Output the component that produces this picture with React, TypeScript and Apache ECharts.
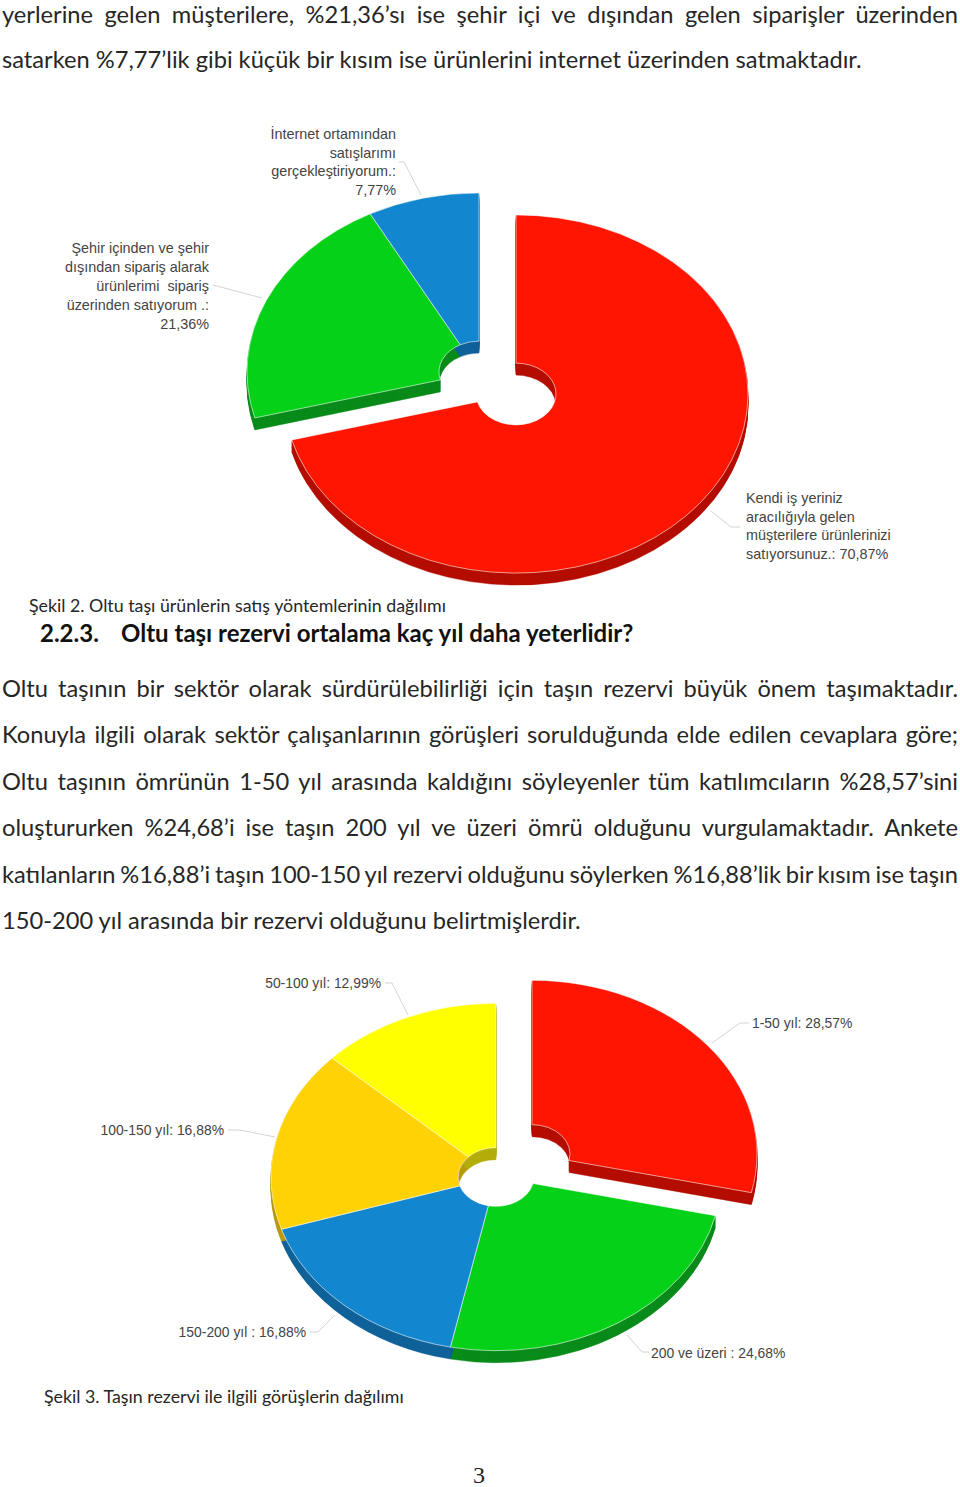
import React, { useEffect, useRef } from "react";
import * as echarts from "echarts";

const pie1Names = ["Kendi iş yeriniz aracılığıyla gelen müşterilere ürünlerinizi satıyorsunuz.", "Şehir içinden ve şehir dışından sipariş alarak ürünlerimi sipariş üzerinden satıyorum .", "İnternet ortamından satışlarımı gerçekleştiriyorum."];
const pie1Values = [70.87, 21.36, 7.77];
const pie1Colors = ["#ff1500", "#05d118", "#1287cf"];
const pie1Sides = ["#b50d00", "#0a8c1b", "#0f6299"];
const pie1Sliced = [true, false, false];

const pie2Names = ["1-50 yıl", "200 ve üzeri", "150-200 yıl", "100-150 yıl", "50-100 yıl"];
const pie2Values = [28.57, 24.68, 16.88, 16.88, 12.99];
const pie2Colors = ["#ff1500", "#05d118", "#1287cf", "#ffd205", "#ffff00"];
const pie2Sides = ["#b50d00", "#0a8c1b", "#0f6299", "#b89a10", "#b5ad0a"];
const pie2Sliced = [true, false, false, false, false];

const BODY = '"Lato", sans-serif';
const LABEL = '"Liberation Sans", Arial, sans-serif';
const bodyLines: [string, number, boolean][] = [
  ["yerlerine gelen müşterilere, %21,36’sı ise şehir içi ve dışından gelen siparişler üzerinden", 13.5, true],
  ["satarken %7,77’lik gibi küçük bir kısım ise ürünlerini internet üzerinden satmaktadır.", 59, false],
  ["Oltu taşının bir sektör olarak sürdürülebilirliği için taşın rezervi büyük önem taşımaktadır.", 688, true],
  ["Konuyla ilgili olarak sektör çalışanlarının görüşleri sorulduğunda elde edilen cevaplara göre;", 734, true],
  ["Oltu taşının ömrünün 1-50 yıl arasında kaldığını söyleyenler tüm katılımcıların %28,57’sini", 781, true],
  ["oluştururken %24,68’i ise taşın 200 yıl ve üzeri ömrü olduğunu vurgulamaktadır. Ankete", 827, true],
  ["katılanların %16,88’i taşın 100-150 yıl rezervi olduğunu söylerken %16,88’lik bir kısım ise taşın", 874, true],
  ["150-200 yıl arasında bir rezervi olduğunu belirtmişlerdir.", 920, false],
];
const captions: [string, number, number][] = [
  ["Şekil 2. Oltu taşı ürünlerin satış yöntemlerinin dağılımı", 29, 605],
  ["Şekil 3. Taşın rezervi ile ilgili görüşlerin dağılımı", 44, 1396],
];
const headings: [string, number, number][] = [
  ["2.2.3.", 40, 632],
  ["Oltu taşı rezervi ortalama kaç yıl daha yeterlidir?", 121, 632],
];
const pie1Labels: [string, number, number, string][] = [
  ["İnternet ortamından\nsatışlarımı\ngerçekleştiriyorum.:\n7,77%", 396, 162, "right"],
  ["Şehir içinden ve şehir\ndışından sipariş alarak\nürünlerimi  sipariş\nüzerinden satıyorum .:\n21,36%", 209, 286, "right"],
  ["Kendi iş yeriniz\naracılığıyla gelen\nmüşterilere ürünlerinizi\nsatıyorsunuz.: 70,87%", 746, 526, "left"],
];
const pie2Labels: [string, number, number, string][] = [
  ["1-50 yıl: 28,57%", 752, 1023, "left"],
  ["200 ve üzeri : 24,68%", 651, 1353, "left"],
  ["150-200 yıl : 16,88%", 306, 1332, "right"],
  ["100-150 yıl: 16,88%", 224, 1130, "right"],
  ["50-100 yıl: 12,99%", 381, 983, "right"],
];
const leaders: number[][][] = [
  [[399, 162], [404, 162], [421, 195]],
  [[213, 285], [262, 298]],
  [[740, 527], [731, 527], [711, 511]],
  [[749, 1023], [740, 1023], [712, 1043]],
  [[385, 983], [392, 983], [408, 1015]],
  [[228, 1130], [240, 1130], [275, 1137]],
  [[310, 1332], [318, 1332], [335, 1315]],
  [[649, 1352], [642, 1352], [627, 1335]],
];

const TILT = 0.772;
const DEPTH = 12;

function pieSeries(
  values: number[], names: string[], colors: string[], sides: string[], sliced: boolean[],
  r: number, r0: number, slicedC: number[], restC: number[],
) {
  const total = values.reduce((a, b) => a + b, 0);
  const starts: number[] = [];
  values.reduce((acc, v, i) => { starts[i] = acc; return acc + v; }, 0);
  const sector = (i: number, v: number, dy: number, style: any) => {
    const c = sliced[i] ? slicedC : restC;
    const a0 = -Math.PI / 2 + (starts[i] / total) * Math.PI * 2;
    const a1 = a0 + (v / total) * Math.PI * 2;
    return {
      type: "sector", x: c[0], y: c[1] + dy, scaleY: TILT,
      shape: { cx: 0, cy: 0, r, r0, startAngle: a0, endAngle: a1, clockwise: true },
      style,
    };
  };
  const data = values.map((v, i) => ({ name: names[i], value: [v, i] }));
  const sideSeries = {
    type: "custom", coordinateSystem: "none", data, silent: true, z: 2,
    renderItem: (_: any, api: any) => {
      const v = api.value(0); const i = api.value(1);
      const children = [];
      for (let d = DEPTH; d >= 1; d--) children.push(sector(i, v, d, { fill: sides[i], stroke: sides[i], lineWidth: 0.5 }));
      return { type: "group", children };
    },
  };
  const faceSeries = {
    type: "custom", coordinateSystem: "none", data, silent: true, z: 3,
    renderItem: (_: any, api: any) => {
      const v = api.value(0); const i = api.value(1);
      return sector(i, v, 0, { fill: colors[i], stroke: "rgba(255,255,255,0.65)", lineWidth: 1 });
    },
  };
  return [sideSeries, faceSeries];
}

export default function App() {
  const ref = useRef<HTMLDivElement>(null);
  useEffect(() => {
    document.body.style.margin = "0";
    const chart = echarts.init(ref.current!, null, { renderer: "svg", width: 960, height: 1487 });
    const graphic: any[] = [];
    leaders.forEach((pts) => graphic.push({
      type: "polyline", z: 1, shape: { points: pts }, style: { stroke: "#d4d4d4", lineWidth: 1, fill: "none" },
    }));
    const addLabel = (size: number) => ([text, x, y, align]: [string, number, number, string]) => graphic.push({
      type: "text", z: 10, x, y,
      style: { text, fill: "#444444", font: `${size}px ${LABEL}`, lineHeight: 18.8, textAlign: align, textVerticalAlign: "middle" },
    });
    pie1Labels.forEach(addLabel(14.4));
    pie2Labels.forEach(addLabel(13.9));
    bodyLines.forEach(([text, y]) => graphic.push({
      type: "text", z: 10, x: 2, y,
      style: { text, fill: "#262626", font: `23.67px ${BODY}`, textAlign: "left", textVerticalAlign: "middle" },
    }));
    captions.forEach(([text, x, y]) => graphic.push({
      type: "text", z: 10, x, y,
      style: { text, fill: "#262626", font: `17.8px ${BODY}`, textAlign: "left", textVerticalAlign: "middle" },
    }));
    headings.forEach(([text, x, y]) => graphic.push({
      type: "text", z: 10, x, y,
      style: { text, fill: "#111111", font: `bold 24px ${BODY}`, textAlign: "left", textVerticalAlign: "middle" },
    }));
    graphic.push({
      type: "text", z: 10, x: 479, y: 1474.8,
      style: { text: "3", fill: "#222", font: '24px "Liberation Serif", serif', textAlign: "center", textVerticalAlign: "middle" },
    });
    chart.setOption({
      animation: false,
      backgroundColor: "#ffffff",
      graphic: { elements: graphic },
      series: [
        ...pieSeries(pie1Values, pie1Names, pie1Colors, pie1Sides, pie1Sliced, 232, 40, [516, 394], [479, 372]),
        ...pieSeries(pie2Values, pie2Names, pie2Colors, pie2Sides, pie2Sliced, 225, 38, [532, 1154], [496, 1177]),
      ],
    });
    // The body text of the page is justified from x=2 to x=958.
    const justified = new Set(bodyLines.filter((l) => l[2]).map((l) => l[0]));
    ref.current!.querySelectorAll("text").forEach((el: any) => {
      const t = el.textContent || "";
      if (!justified.has(t)) return;
      const gaps = t.split(" ").length - 1;
      const extra = (956 - el.getComputedTextLength()) / gaps;
      el.setAttribute("word-spacing", `${extra}`);
      el.style.wordSpacing = `${extra}px`;
    });
    return () => chart.dispose();
  }, []);
  return <div ref={ref} style={{ position: "absolute", left: 0, top: 0, width: 960, height: 1487 }} />;
}
